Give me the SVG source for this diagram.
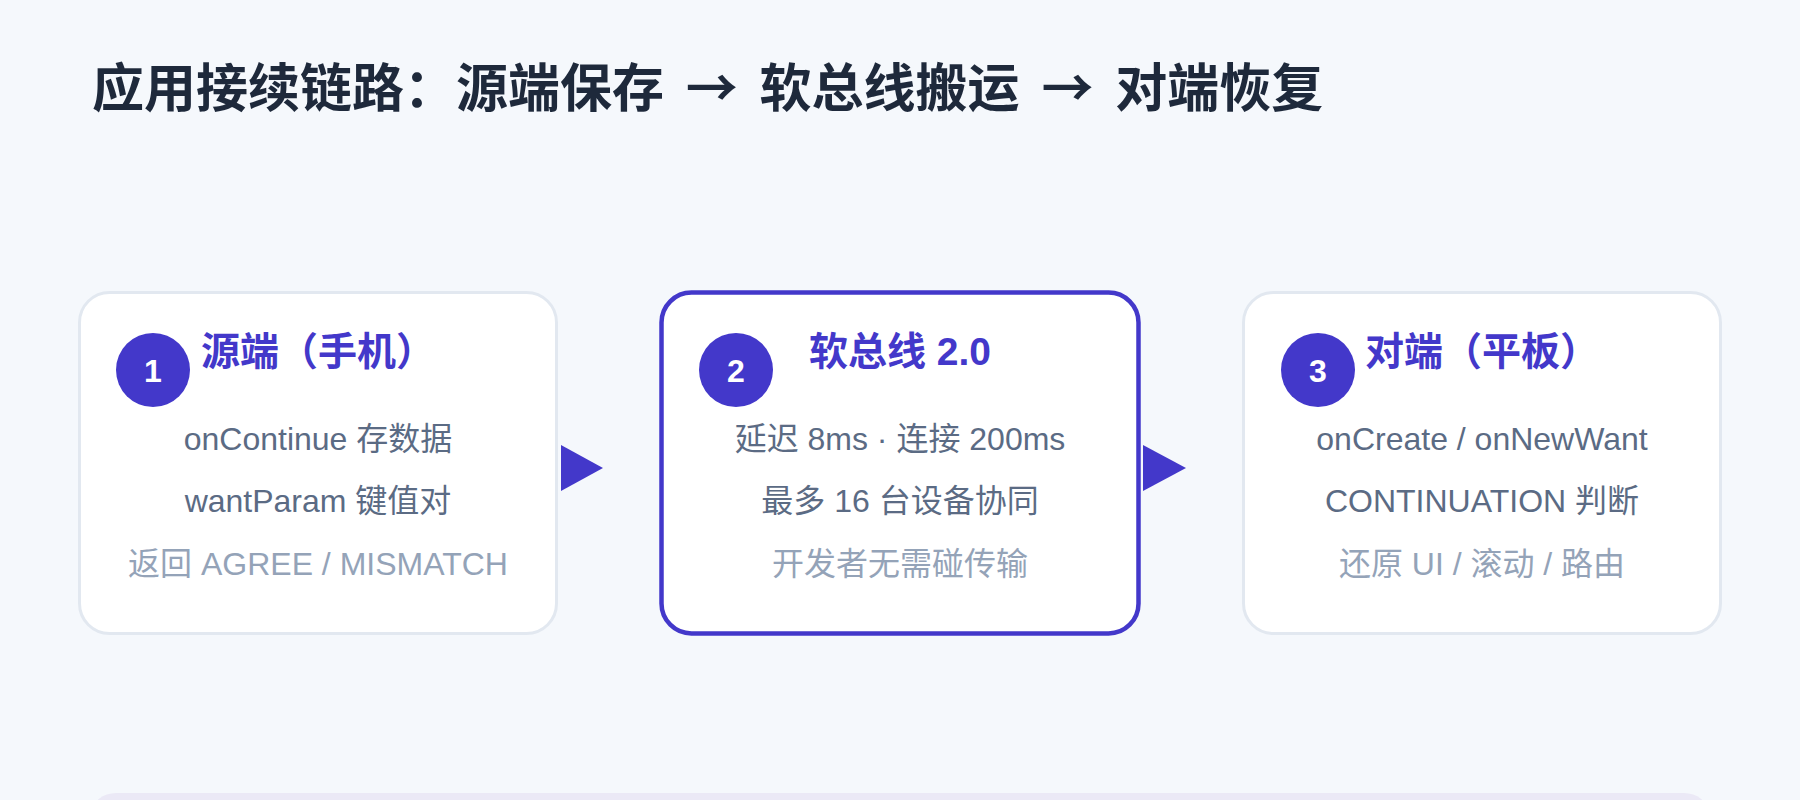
<svg xmlns="http://www.w3.org/2000/svg" width="1800" height="800" viewBox="0 0 1800 800">
  <style>
    text { font-family: "Liberation Sans", "Noto Sans CJK SC", sans-serif; }
    .title { font-family: "Noto Sans CJK SC", sans-serif; font-size: 52px; font-weight: 700; fill: #1e293b; word-spacing: 10px; }
    .card { fill: #ffffff; stroke: #e2e8f0; stroke-width: 3; }
    .card-active { fill: #ffffff; stroke: #4338ca; stroke-width: 4.5; }
    .badge { fill: #4338ca; }
    .badge-num { font-size: 32px; font-weight: 700; fill: #ffffff; text-anchor: middle; }
    .head { font-size: 39px; font-weight: 700; fill: #4338ca; text-anchor: middle; }
    .body { font-size: 32px; fill: #5b6b84; text-anchor: middle; }
    .note { font-size: 32px; fill: #94a3b8; text-anchor: middle; }
    .arrow { fill: #4338ca; }
  </style>
  <rect x="0" y="0" width="1800" height="800" fill="#f5f8fc"/>
  <text class="title" x="92" y="107">应用接续链路：源端保存 → 软总线搬运 → 对端恢复</text>

  <g id="node-source">
    <rect class="card" x="79.5" y="292.5" width="477" height="341" rx="30"/>
    <circle class="badge" cx="153" cy="370" r="37"/>
    <text class="badge-num" x="153" y="382">1</text>
    <text class="head" x="318" y="365">源端（手机）</text>
    <text class="body" x="318" y="450">onContinue 存数据</text>
    <text class="body" x="318" y="512">wantParam 键值对</text>
    <text class="note" x="318" y="575">返回 AGREE / MISMATCH</text>
  </g>

  <g id="node-softbus">
    <rect class="card-active" x="661.5" y="292.5" width="477" height="341" rx="30"/>
    <circle class="badge" cx="736" cy="370" r="37"/>
    <text class="badge-num" x="736" y="382">2</text>
    <text class="head" x="900" y="365">软总线 2.0</text>
    <text class="body" x="900" y="450">延迟 8ms · 连接 200ms</text>
    <text class="body" x="900" y="512">最多 16 台设备协同</text>
    <text class="note" x="900" y="575">开发者无需碰传输</text>
  </g>

  <g id="node-target">
    <rect class="card" x="1243.5" y="292.5" width="477" height="341" rx="30"/>
    <circle class="badge" cx="1318" cy="370" r="37"/>
    <text class="badge-num" x="1318" y="382">3</text>
    <text class="head" x="1482" y="365">对端（平板）</text>
    <text class="body" x="1482" y="450">onCreate / onNewWant</text>
    <text class="body" x="1482" y="512">CONTINUATION 判断</text>
    <text class="note" x="1482" y="575">还原 UI / 滚动 / 路由</text>
  </g>

  <g id="connectors">
    <polygon class="arrow" points="561,445 603,468 561,491"/>
    <polygon class="arrow" points="1143,445 1186,468 1143,491"/>
  </g>

  <rect x="92" y="793" width="1616" height="40" rx="24" fill="#ebe9f6"/>
</svg>
